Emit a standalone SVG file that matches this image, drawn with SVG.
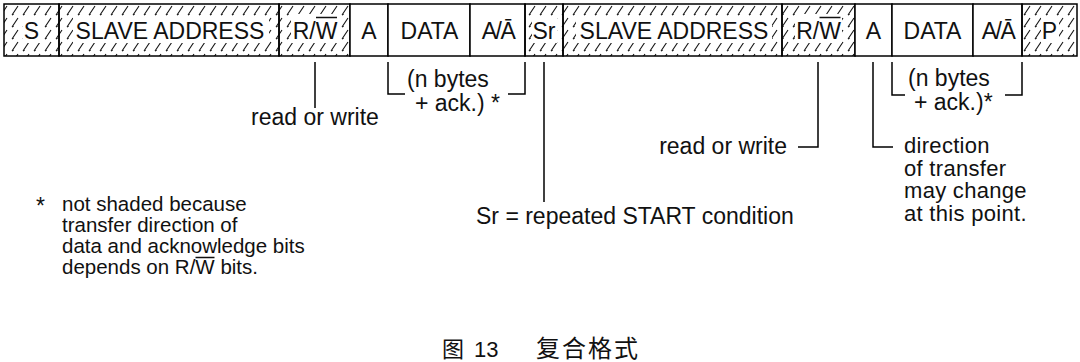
<svg xmlns="http://www.w3.org/2000/svg" width="1080" height="362" viewBox="0 0 1080 362">
<defs>
<pattern id="hatch" patternUnits="userSpaceOnUse" x="0" y="4" width="11" height="12">
<path d="M1,11 L7,2" stroke="#111" stroke-width="1.1" fill="none"/>
<path d="M1,11 l1.8,-0.6" stroke="#111" stroke-width="0.8" fill="none"/>
</pattern>
<style>
.box{stroke:#000;stroke-width:1.5}
.h{fill:url(#hatch)}
.w{fill:#fff}
.clr{fill:#fff;stroke:none}
.lbl{font-family:"Liberation Sans",Arial,sans-serif;font-size:23px;fill:#111;text-anchor:middle}
.t{font-family:"Liberation Sans",Arial,sans-serif;font-size:23px;fill:#111}
.dir{font-family:"Liberation Sans",Arial,sans-serif;font-size:22px;fill:#111}
.fn{font-family:"Liberation Sans",Arial,sans-serif;font-size:20.5px;fill:#111}
.ln{stroke:#000;stroke-width:1.5;fill:none}
.ov{stroke:#111;stroke-width:1.5;fill:none}
.cap{font-family:"Noto Sans CJK SC","Liberation Sans",sans-serif;font-size:22px;fill:#111}
.capn{font-family:"Liberation Sans",Arial,sans-serif;font-size:22px;fill:#111}
</style>
</defs>
<rect x="0" y="0" width="1080" height="362" fill="#fff"/>

<g id="frame">
<g id="n-s"><rect class="box h" x="4" y="4" width="55" height="52"/><rect class="clr" x="23" y="17" width="18" height="26"/><text class="lbl" x="31.5" y="38.5">S</text></g>
<g id="n-addr1"><rect class="box h" x="59" y="4" width="220" height="52"/><rect class="clr" x="73" y="17" width="196" height="26"/><text class="lbl" x="170" y="38.5">SLAVE ADDRESS</text></g>
<g id="n-rw1"><rect class="box h" x="279" y="4" width="71" height="52"/><rect class="clr" x="291" y="14" width="47" height="29"/><text class="lbl" x="315" y="38.5">R/W</text><path class="ov" d="M316,17.5 H337"/></g>
<g id="n-a1"><rect class="box w" x="350" y="4" width="38" height="52"/><text class="lbl" x="369" y="38.5">A</text></g>
<g id="n-data1"><rect class="box w" x="388" y="4" width="82" height="52"/><text class="lbl" x="429.5" y="38.5">DATA</text></g>
<g id="n-ack1"><rect class="box w" x="470" y="4" width="55" height="52"/><text class="lbl" x="498" y="38.5" letter-spacing="-1.5">A/Ā</text></g>
<g id="n-sr"><rect class="box h" x="525" y="4" width="38" height="52"/><rect class="clr" x="532" y="17" width="25" height="26"/><text class="lbl" x="544" y="38.5">Sr</text></g>
<g id="n-addr2"><rect class="box h" x="563" y="4" width="219" height="52"/><rect class="clr" x="576" y="17" width="196" height="26"/><text class="lbl" x="674" y="38.5">SLAVE ADDRESS</text></g>
<g id="n-rw2"><rect class="box h" x="782" y="4" width="73" height="52"/><rect class="clr" x="795" y="14" width="47" height="29"/><text class="lbl" x="818.5" y="38.5">R/W</text><path class="ov" d="M819.5,17.5 H840.5"/></g>
<g id="n-a2"><rect class="box w" x="855" y="4" width="37" height="52"/><text class="lbl" x="873.5" y="38.5">A</text></g>
<g id="n-data2"><rect class="box w" x="892" y="4" width="81" height="52"/><text class="lbl" x="932.5" y="38.5">DATA</text></g>
<g id="n-ack2"><rect class="box w" x="973" y="4" width="49" height="52"/><text class="lbl" x="998" y="38.5" letter-spacing="-1.5">A/Ā</text></g>
<g id="n-p"><rect class="box h" x="1022" y="4" width="55" height="52"/><rect class="clr" x="1041" y="17" width="18" height="26"/><text class="lbl" x="1049.5" y="38.5">P</text></g>
</g>

<g id="connectors">
<path class="ln" d="M315,62 V108"/>
<path class="ln" d="M388,62 V94 H405 M508,94 H525 V62"/>
<path class="ln" d="M544,62 V202"/>
<path class="ln" d="M818,62 V147 H798"/>
<path class="ln" d="M873,62 V147 H893"/>
<path class="ln" d="M892,62 V95 H905 M1005,95 H1022 V62"/>
</g>

<g id="labels">
<text class="t" x="315" y="125" text-anchor="middle">read or write</text>
<text class="t" x="407" y="87">(n bytes<tspan x="415" y="111">+ ack.) *</tspan></text>
<text class="t" x="476" y="224">Sr = repeated START condition</text>
<text class="t" x="787" y="154" text-anchor="end">read or write</text>
<text class="dir" x="904" y="153" letter-spacing="0.3">direction<tspan x="904" y="175.5">of transfer</tspan><tspan x="904" y="198">may change</tspan><tspan x="904" y="220.5">at this point.</tspan></text>
<text class="t" x="908" y="86">(n bytes<tspan x="914" y="110">+ ack.)*</tspan></text>
</g>

<g id="footnote">
<text class="t" x="36" y="214">*</text>
<text class="fn" x="62" y="211">not shaded because<tspan x="62" y="232">transfer direction of</tspan><tspan x="62" y="253">data and acknowledge bits</tspan><tspan x="62" y="274">depends on R/W bits.</tspan></text>
<path class="ov" d="M195.5,257.5 H214.5"/>
</g>

<g id="caption">
<text class="cap" x="442" y="357">图<tspan class="capn" x="474">13</tspan><tspan x="536" letter-spacing="2" font-size="24">复合格式</tspan></text>
</g>
</svg>
